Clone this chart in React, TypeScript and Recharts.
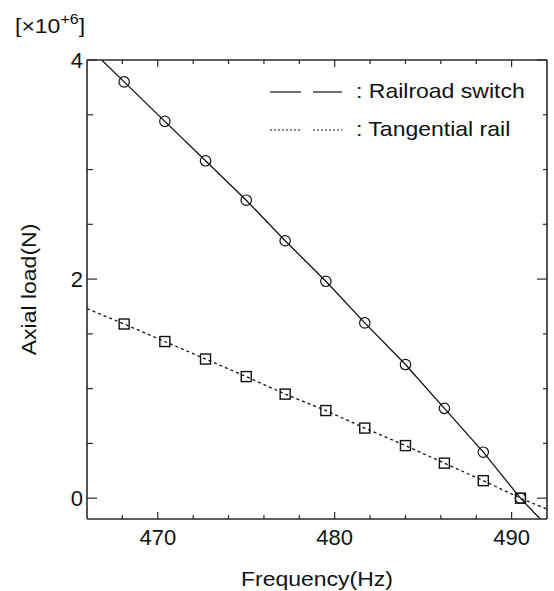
import { ComposedChart, XAxis, YAxis, Line, Scatter, Label } from 'recharts';

// measured points (Hz, x10^6 N)
const freq = [468.1, 470.4, 472.7, 475.0, 477.2, 479.5, 481.7, 484.0, 486.2, 488.4, 490.5];
const switchLoad = [3.80, 3.44, 3.08, 2.72, 2.35, 1.98, 1.60, 1.22, 0.82, 0.42, 0.0];
const railLoad = [1.59, 1.43, 1.27, 1.11, 0.95, 0.80, 0.64, 0.48, 0.32, 0.16, 0.0];

// where the connecting curves leave the frame
const switchEndFreq = [466.83, 491.61];
const switchEndLoad = [4.0, -0.19];
const railEndFreq = [466.0, 492.0];
const railEndLoad = [1.73, -0.1];

const xTicks = [468, 470, 472, 474, 476, 478, 480, 482, 484, 486, 488, 490];
const xLabels = [470, 480, 490];
const yTicks = [0, 0.5, 1, 1.5, 2, 2.5, 3, 3.5, 4];
const yLabels = [0, 2, 4];

const switchPts = freq.map((f, i) => ({ f, v: switchLoad[i] }));
const railPts = freq.map((f, i) => ({ f, v: railLoad[i] }));
const switchCurve = [
  { f: switchEndFreq[0], v: switchEndLoad[0] },
  ...switchPts,
  { f: switchEndFreq[1], v: switchEndLoad[1] },
];
const railCurve = [
  { f: railEndFreq[0], v: railEndLoad[0] },
  ...railPts,
  { f: railEndFreq[1], v: railEndLoad[1] },
];

const FONT = '"Liberation Sans", Arial, Helvetica, sans-serif';
const INK = '#111';
const FRAME = '#2a2a2a';
const STRETCH = 1.15;

const BottomTick = (props: any) => {
  const { x, y, payload } = props;
  const major = xLabels.includes(payload.value);
  return (
    <g>
      <line x1={x} y1={y} x2={x} y2={y - (major ? 7 : 4)} stroke={FRAME} strokeWidth={1.2} />
      {major && (
        <text x={x} y={y + 26} textAnchor="middle" fontSize={22} fontFamily={FONT} fill={INK}>
          {payload.value}
        </text>
      )}
    </g>
  );
};

const TopTick = (props: any) => {
  const { x, y, payload } = props;
  const major = xLabels.includes(payload.value);
  return <line x1={x} y1={y} x2={x} y2={y + (major ? 7 : 4)} stroke={FRAME} strokeWidth={1.2} />;
};

const LeftTick = (props: any) => {
  const { x, y, payload } = props;
  const major = yLabels.includes(payload.value);
  return (
    <g>
      <line x1={x} y1={y} x2={x + (major ? 10 : 6)} y2={y} stroke={FRAME} strokeWidth={1.2} />
      {major && (
        <text x={x - 4} y={y + 8} textAnchor="end" fontSize={22} fontFamily={FONT} fill={INK}>
          {payload.value}
        </text>
      )}
    </g>
  );
};

const RightTick = (props: any) => {
  const { x, y, payload } = props;
  const major = yLabels.includes(payload.value);
  return <line x1={x} y1={y} x2={x - (major ? 10 : 4)} y2={y} stroke={FRAME} strokeWidth={1.2} />;
};

const circleShape = (props: any) => (
  <circle cx={props.cx} cy={props.cy} r={5.2} fill="none" stroke={INK} strokeWidth={1.2} />
);

const squareShape = (props: any) => (
  <rect x={props.cx - 5} y={props.cy - 5} width={10} height={10} fill="none" stroke={INK} strokeWidth={1.4} />
);

const wideText = (x: number, y: number, s: string, rotate = 0) => (
  <text
    transform={`translate(${x},${y}) rotate(${rotate}) scale(${STRETCH},1)`}
    textAnchor="middle"
    fontSize={20}
    fontFamily={FONT}
    fill={INK}
  >
    {s}
  </text>
);

const XTitle = (props: any) => {
  const { x, y, width } = props.viewBox;
  return wideText(x + width / 2, y + 67, 'Frequency(Hz)');
};

const YTitle = (props: any) => {
  const { x, y, height } = props.viewBox;
  return wideText(x - 50, y + height / 2, 'Axial load(N)', -90);
};

const ScaleNote = (props: any) => {
  const { x, y } = props.viewBox;
  return (
    <text
      transform={`translate(${x - 71},${y - 27}) scale(${STRETCH},1)`}
      fontSize={20}
      fontFamily={FONT}
      fill={INK}
    >
      [×10
      <tspan fontSize={14} dy={-9}>+6</tspan>
      <tspan dy={9}>]</tspan>
    </text>
  );
};

const LegendBox = (props: any) => {
  const { x, y } = props.viewBox;
  const lx = x + 183;
  const row1 = y + 33;
  const row2 = y + 71;
  return (
    <g>
      <line x1={lx} y1={row1} x2={lx + 31} y2={row1} stroke={INK} strokeWidth={1.2} />
      <line x1={lx + 43} y1={row1} x2={lx + 72} y2={row1} stroke={INK} strokeWidth={1.2} />
      <line x1={lx} y1={row2} x2={lx + 31} y2={row2} stroke={INK} strokeWidth={1.2} strokeDasharray="2 2" />
      <line x1={lx + 43} y1={row2} x2={lx + 72} y2={row2} stroke={INK} strokeWidth={1.2} strokeDasharray="2 2" />
      <text transform={`translate(${lx + 86},${row1 + 6}) scale(${STRETCH},1)`} fontSize={20} fontFamily={FONT} fill={INK}>
        :  Railroad switch
      </text>
      <text transform={`translate(${lx + 86},${row2 + 6}) scale(${STRETCH},1)`} fontSize={20} fontFamily={FONT} fill={INK}>
        :  Tangential rail
      </text>
    </g>
  );
};

export default function App() {
  return (
    <div style={{ position: 'absolute', left: 0, top: 0 }}>
      <ComposedChart width={554} height={591} margin={{ top: 59, right: 6, bottom: 71, left: 86 }}>
        <XAxis
          xAxisId={0}
          dataKey="f"
          type="number"
          domain={[466, 492]}
          ticks={xTicks}
          interval={0}
          allowDataOverflow
          height={1}
          tickSize={0}
          tickMargin={0}
          tickLine={false}
          tick={BottomTick}
          axisLine={{ stroke: FRAME, strokeWidth: 1.6 }}
        >
          <Label content={XTitle} />
        </XAxis>
        <XAxis
          xAxisId="top"
          orientation="top"
          dataKey="f"
          type="number"
          domain={[466, 492]}
          ticks={xTicks}
          interval={0}
          allowDataOverflow
          height={1}
          tickSize={0}
          tickMargin={0}
          tickLine={false}
          tick={TopTick}
          axisLine={{ stroke: FRAME, strokeWidth: 1.6 }}
        >
          <Label content={LegendBox} />
        </XAxis>
        <YAxis
          yAxisId={0}
          type="number"
          domain={[-0.19, 4]}
          ticks={yTicks}
          interval={0}
          allowDataOverflow
          width={1}
          tickSize={0}
          tickMargin={0}
          tickLine={false}
          tick={LeftTick}
          axisLine={{ stroke: FRAME, strokeWidth: 1.6 }}
        >
          <Label content={YTitle} />
          <Label content={ScaleNote} />
        </YAxis>
        <YAxis
          yAxisId="right"
          orientation="right"
          type="number"
          domain={[-0.19, 4]}
          ticks={yTicks}
          interval={0}
          allowDataOverflow
          width={1}
          tickSize={0}
          tickMargin={0}
          tickLine={false}
          tick={RightTick}
          axisLine={{ stroke: FRAME, strokeWidth: 1.6 }}
        />
        <Line
          data={switchCurve}
          dataKey="v"
          type="linear"
          stroke={INK}
          strokeWidth={1.3}
          dot={false}
          activeDot={false}
          isAnimationActive={false}
        />
        <Line
          data={railCurve}
          dataKey="v"
          type="linear"
          stroke={INK}
          strokeWidth={1.3}
          strokeDasharray="3 3"
          dot={false}
          activeDot={false}
          isAnimationActive={false}
        />
        <Scatter data={switchPts} dataKey="v" shape={circleShape} isAnimationActive={false} />
        <Scatter data={railPts} dataKey="v" shape={squareShape} isAnimationActive={false} />
      </ComposedChart>
    </div>
  );
}
